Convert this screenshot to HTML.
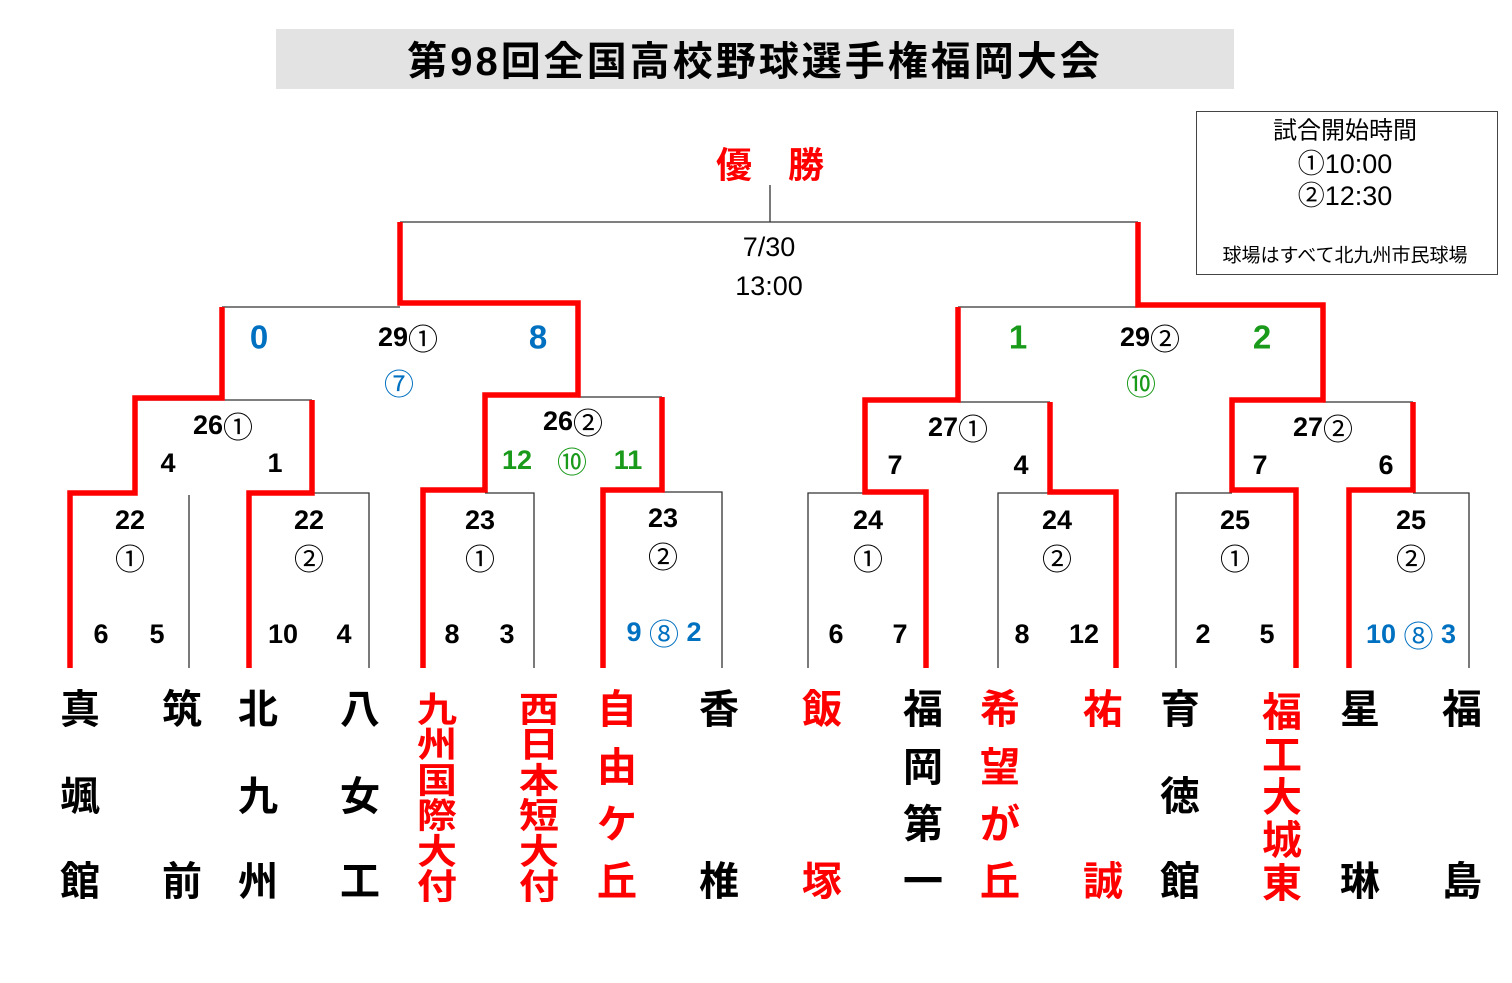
<!DOCTYPE html>
<html><head><meta charset="utf-8"><style>
html,body{margin:0;padding:0;background:#fff;width:1512px;height:983px;overflow:hidden}
svg text{font-family:"Liberation Sans","Noto Sans CJK JP",sans-serif;text-anchor:middle;dominant-baseline:central}
.n{font-size:27px;fill:#000;font-weight:bold}
.t{font-size:40px;font-weight:bold;fill:#000}
.r{fill:#f00}
.b{fill:#0070c0}
.g{fill:#1a9a1a}
.c{font-family:"Noto Sans CJK JP",sans-serif;font-size:30px;font-weight:normal}
</style></head><body>
<svg width="1512" height="983" viewBox="0 0 1512 983" xmlns="http://www.w3.org/2000/svg">
<rect x="276" y="29" width="958" height="60" fill="#e3e3e3"/>
<text x="755" y="62" style="font-size:40px;font-weight:bold;letter-spacing:3px">第98回全国高校野球選手権福岡大会</text>
<rect x="1196.5" y="111.5" width="301" height="163" fill="none" stroke="#444" stroke-width="1"/>
<text x="1345" y="131" style="font-size:24px">試合開始時間</text>
<text x="1345" y="164" style="font-size:27px">①10:00</text>
<text x="1345" y="196" style="font-size:27px">②12:30</text>
<text x="1345" y="256" style="font-size:19px">球場はすべて北九州市民球場</text>
<text x="770" y="165" style="font-size:36px;font-weight:bold" class="r">優　勝</text>

<g stroke="#333" stroke-width="1.3" fill="none">
<path d="M770 185V222M400 222H1138"/>
<path d="M222 307H400M135 400H312M189 495V668M312 493H369V668"/>
<path d="M578 397H662M485 493H534V668M662 492H722V668"/>
<path d="M958 307H1138M958 402H1050M1323 402H1413"/>
<path d="M865 493H808V668M1050 493H998V668M1232 493H1176V668M1413 493H1469V668"/>
</g>
<g stroke="#f00" stroke-width="5.5" fill="none" stroke-linejoin="miter">
<path d="M400 222V303H578V395H485V490H423V668"/>
<path d="M222 307V398H135V493H70V668"/>
<path d="M312 400V493H249V668"/>
<path d="M662 397V490H603V668"/>
<path d="M1138 222V305H1323V400H1232V490H1296V668"/>
<path d="M958 307V400H865V492H926V668"/>
<path d="M1050 402V492H1116V668"/>
<path d="M1413 402V490H1349V668"/>
</g>

<text x="769" y="247" class="n" style="font-weight:normal">7/30</text>
<text x="769" y="286" class="n" style="font-weight:normal">13:00</text>

<text x="408" y="337" class="n">29<tspan class="c">①</tspan></text>
<text x="259" y="337" class="b" style="font-size:33px;font-weight:bold">0</text>
<text x="538" y="337" class="b" style="font-size:33px;font-weight:bold">8</text>
<text x="399" y="382" class="n b c">⑦</text>
<text x="1150" y="337" class="n">29<tspan class="c">②</tspan></text>
<text x="1018" y="337" class="g" style="font-size:33px;font-weight:bold">1</text>
<text x="1262" y="337" class="g" style="font-size:33px;font-weight:bold">2</text>
<text x="1141" y="382" class="n g c">⑩</text>

<text x="223" y="425" class="n">26<tspan class="c">①</tspan></text>
<text x="168" y="463" class="n">4</text><text x="275" y="463" class="n">1</text>
<text x="573" y="421" class="n">26<tspan class="c">②</tspan></text>
<text x="517" y="460" class="n g">12</text><text x="572" y="460" class="n g c">⑩</text><text x="628" y="460" class="n g">11</text>
<text x="958" y="427" class="n">27<tspan class="c">①</tspan></text>
<text x="895" y="465" class="n">7</text><text x="1021" y="465" class="n">4</text>
<text x="1323" y="427" class="n">27<tspan class="c">②</tspan></text>
<text x="1260" y="465" class="n">7</text><text x="1386" y="465" class="n">6</text>

<text x="130" y="520" class="n">22</text><text x="130" y="557" class="n c">①</text>
<text x="101" y="634" class="n">6</text><text x="157" y="634" class="n">5</text>
<text x="309" y="520" class="n">22</text><text x="309" y="557" class="n c">②</text>
<text x="283" y="634" class="n">10</text><text x="344" y="634" class="n">4</text>
<text x="480" y="520" class="n">23</text><text x="480" y="557" class="n c">①</text>
<text x="452" y="634" class="n">8</text><text x="507" y="634" class="n">3</text>
<text x="663" y="518" class="n">23</text><text x="663" y="555" class="n c">②</text>
<text x="664" y="632" class="n b">9 <tspan class="c">⑧</tspan> 2</text>
<text x="868" y="520" class="n">24</text><text x="868" y="557" class="n c">①</text>
<text x="836" y="634" class="n">6</text><text x="900" y="634" class="n">7</text>
<text x="1057" y="520" class="n">24</text><text x="1057" y="557" class="n c">②</text>
<text x="1022" y="634" class="n">8</text><text x="1084" y="634" class="n">12</text>
<text x="1235" y="520" class="n">25</text><text x="1235" y="557" class="n c">①</text>
<text x="1203" y="634" class="n">2</text><text x="1267" y="634" class="n">5</text>
<text x="1411" y="520" class="n">25</text><text x="1411" y="557" class="n c">②</text>
<text x="1411" y="634" class="n b">10 <tspan class="c">⑧</tspan> 3</text>

<g class="t">
<text x="80" y="710">真</text><text x="80" y="797">颯</text><text x="80" y="882">館</text>
<text x="182" y="710">筑</text><text x="182" y="882">前</text>
<text x="258" y="710">北</text><text x="258" y="797">九</text><text x="258" y="882">州</text>
<text x="360" y="710">八</text><text x="360" y="797">女</text><text x="360" y="882">工</text>
<g class="r" transform="translate(437,0)">
<text x="0" y="710" transform="translate(0,710) scale(1,0.88) translate(0,-710)">九</text>
<text x="0" y="745" transform="translate(0,745) scale(1,0.88) translate(0,-745)">州</text>
<text x="0" y="781" transform="translate(0,781) scale(1,0.88) translate(0,-781)">国</text>
<text x="0" y="816" transform="translate(0,816) scale(1,0.88) translate(0,-816)">際</text>
<text x="0" y="852" transform="translate(0,852) scale(1,0.88) translate(0,-852)">大</text>
<text x="0" y="887" transform="translate(0,887) scale(1,0.88) translate(0,-887)">付</text>
</g>
<g class="r" transform="translate(539,0)">
<text x="0" y="710" transform="translate(0,710) scale(1,0.88) translate(0,-710)">西</text>
<text x="0" y="745" transform="translate(0,745) scale(1,0.88) translate(0,-745)">日</text>
<text x="0" y="781" transform="translate(0,781) scale(1,0.88) translate(0,-781)">本</text>
<text x="0" y="816" transform="translate(0,816) scale(1,0.88) translate(0,-816)">短</text>
<text x="0" y="852" transform="translate(0,852) scale(1,0.88) translate(0,-852)">大</text>
<text x="0" y="887" transform="translate(0,887) scale(1,0.88) translate(0,-887)">付</text>
</g>
<g class="r"><text x="617" y="710">自</text><text x="617" y="768">由</text><text x="617" y="825">ケ</text><text x="617" y="882">丘</text></g>
<text x="719" y="710">香</text><text x="719" y="882">椎</text>
<g class="r"><text x="822" y="710">飯</text><text x="822" y="882">塚</text></g>
<text x="923" y="710">福</text><text x="923" y="768">岡</text><text x="923" y="825">第</text><text x="923" y="882">一</text>
<g class="r"><text x="1000" y="710">希</text><text x="1000" y="768">望</text><text x="1000" y="825">が</text><text x="1000" y="882">丘</text></g>
<g class="r"><text x="1103" y="710">祐</text><text x="1103" y="882">誠</text></g>
<text x="1180" y="710">育</text><text x="1180" y="797">徳</text><text x="1180" y="882">館</text>
<g class="r"><text x="1282" y="713">福</text><text x="1282" y="756">工</text><text x="1282" y="798">大</text><text x="1282" y="841">城</text><text x="1282" y="884">東</text></g>
<text x="1360" y="710">星</text><text x="1360" y="882">琳</text>
<text x="1462" y="710">福</text><text x="1462" y="882">島</text>
</g>
</svg>
</body></html>
